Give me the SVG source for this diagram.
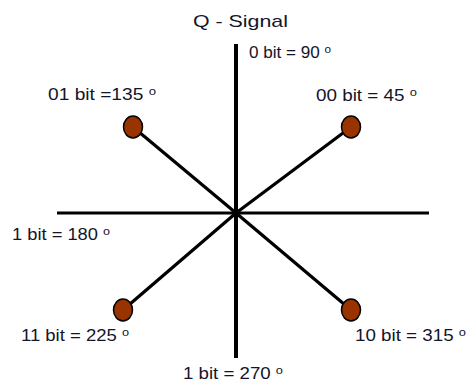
<svg xmlns="http://www.w3.org/2000/svg" width="469" height="383" viewBox="0 0 469 383">
<style>
.t{font-family:"Liberation Sans",Arial,sans-serif;font-size:16px;fill:#14142a}
.d{font-size:11px}
.ax{stroke:#000;fill:none}
.ln{stroke:#000;stroke-width:3.2;fill:none}
.pt{fill:#993300;stroke:#000;stroke-width:1.5}
</style>
<rect width="469" height="383" fill="#fff"/>
<g id="connectors">
<line class="ax" x1="236" y1="44" x2="236" y2="358" stroke-width="4"/>
<line class="ax" x1="57" y1="213" x2="429" y2="213" stroke-width="3"/>
<line class="ln" x1="236" y1="213" x2="133" y2="127"/>
<line class="ln" x1="236" y1="213" x2="351" y2="127"/>
<line class="ln" x1="236" y1="213" x2="123" y2="310"/>
<line class="ln" x1="236" y1="213" x2="351" y2="310"/>
</g>
<g id="title"><text class="t" x="193" y="27" style="font-size:17px" textLength="95" lengthAdjust="spacingAndGlyphs">Q - Signal</text></g>
<g id="n90"><text class="t" x="249" y="58" textLength="82" lengthAdjust="spacingAndGlyphs">0 bit = 90 <tspan class="d" dy="-5">o</tspan></text></g>
<g id="n135">
<ellipse class="pt" cx="133" cy="127" rx="9.5" ry="11"/>
<text class="t" x="48" y="100" textLength="108" lengthAdjust="spacingAndGlyphs">01 bit =135 <tspan class="d" dy="-5">o</tspan></text>
</g>
<g id="n45">
<ellipse class="pt" cx="351" cy="127" rx="9.5" ry="11"/>
<text class="t" x="316" y="100.5" textLength="101" lengthAdjust="spacingAndGlyphs">00 bit = 45 <tspan class="d" dy="-5">o</tspan></text>
</g>
<g id="n180"><text class="t" x="12" y="240" textLength="98" lengthAdjust="spacingAndGlyphs">1 bit = 180 <tspan class="d" dy="-5">o</tspan></text></g>
<g id="n225">
<ellipse class="pt" cx="123" cy="310" rx="9.5" ry="11"/>
<text class="t" x="21" y="340.5" textLength="108" lengthAdjust="spacingAndGlyphs">11 bit = 225 <tspan class="d" dy="-5">o</tspan></text>
</g>
<g id="n315">
<ellipse class="pt" cx="351" cy="310" rx="9.5" ry="11"/>
<text class="t" x="355" y="340.5" textLength="111" lengthAdjust="spacingAndGlyphs">10 bit = 315 <tspan class="d" dy="-5">o</tspan></text>
</g>
<g id="n270"><text class="t" x="183" y="378.5" textLength="100" lengthAdjust="spacingAndGlyphs">1 bit = 270 <tspan class="d" dy="-5">o</tspan></text></g>
</svg>
